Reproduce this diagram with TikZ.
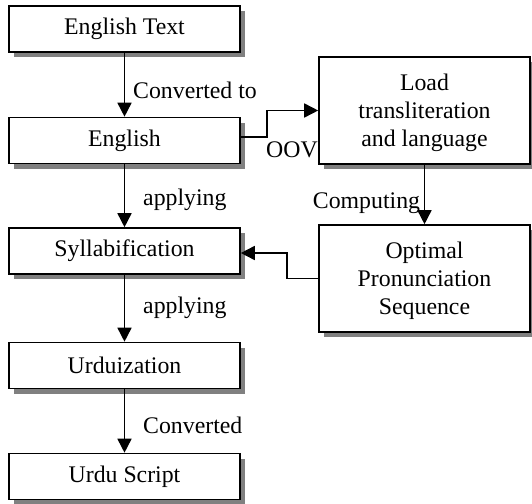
\documentclass[tikz,border=0pt]{standalone}
\usepackage{fontspec}
\setmainfont{Liberation Serif}
\usetikzlibrary{shadows,arrows.meta}
\begin{document}
\begin{tikzpicture}[x=1pt,y=-1pt,
  font=\fontsize{23.8}{28}\selectfont,
  box/.style={draw=black, line width=1.6pt, fill=white, align=center, inner sep=0pt,
    drop shadow={shadow xshift=5pt, shadow yshift=-5pt, fill=black!50, opacity=1}},
  lbox/.style={box, minimum width=231pt, minimum height=46pt},
  rbox/.style={box, minimum width=211pt, minimum height=107pt, text depth=-6pt},
  arr/.style={draw=black, line width=1.6pt, -{Triangle[length=14pt,width=14pt]}},
  lab/.style={inner sep=0pt, fill=none}]
\useasboundingbox[fill=white] (0,0) rectangle (532,503);
\node[lbox] (txt) at (124.5,29) {English Text};
\node[lbox] (eng) at (124.5,140.5) {English};
\node[lbox] (syl) at (124.5,251) {Syllabification};
\node[lbox] (urd) at (124.5,365.5) {Urduization};
\node[lbox] (scr) at (124.5,476.5) {Urdu Script};
\node[rbox] (load) at (424.5,110.5) {Load\\transliteration\\and language};
\node[rbox] (opt) at (424.5,278.5) {Optimal\\Pronunciation\\Sequence};
\draw[arr] (txt.south) -- (eng.north);
\draw[arr] (eng.south) -- (syl.north);
\draw[arr] (syl.south) -- (urd.north);
\draw[arr] (urd.south) -- (scr.north);
\draw[arr] (load.south) -- (opt.north);
\draw[arr] ([yshift=3.5pt]eng.east) -- ++(26,0) |- (load.west);
\draw[arr] (opt.west) -- ++(-31,0) |- ([yshift=-2pt]syl.east);
\node[lab, anchor=west] (l1) at (133,90) {Converted to};
\node[lab, anchor=west] (l2) at (143,200) {applying};
\node[lab, anchor=west] (l3) at (143,308) {applying};
\node[lab, anchor=west] (l4) at (143,425) {Converted};
\node[lab] (l5) at (366.5,203) {Computing};
\node[lab] (l6) at (292,150) {OOV};
\end{tikzpicture}
\end{document}
